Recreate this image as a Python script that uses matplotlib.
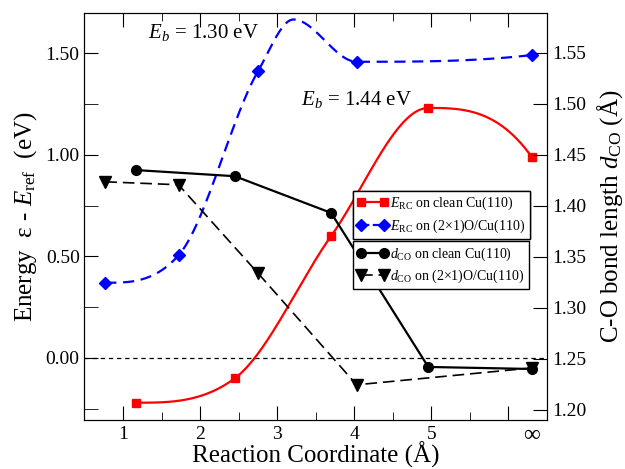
import numpy as np
import matplotlib
matplotlib.use("Agg")
import matplotlib.pyplot as plt

plt.rcParams['font.family'] = ['Liberation Serif', 'DejaVu Serif']
plt.rcParams['mathtext.fontset'] = 'custom'
plt.rcParams['mathtext.rm'] = 'Liberation Serif'
plt.rcParams['mathtext.it'] = 'Liberation Serif:italic'

INF = 6.3  # position used for the "infinity" column

# clean Cu(110)
x_clean = [1.17, 2.45, 3.70, 4.96, INF]
e_clean = [-0.22, -0.10, 0.60, 1.23, 0.99]
d_clean = [1.435, 1.429, 1.393, 1.242, 1.240]

# (2x1)O/Cu(110)
x_ox = [0.77, 1.72, 2.75, 4.03, INF]
e_ox = [0.37, 0.505, 1.41, 1.457, 1.49]
d_ox = [1.4235, 1.4206, 1.334, 1.2245, 1.241]

# transition state on (2x1)O/Cu(110), no marker in the figure
x_ts_ox = 3.21
e_ts_ox = 1.665

xticks = [1, 2, 3, 4, 5, 6]
xticklabels = ['1', '2', '3', '4', '5', '']


def smooth(x, y, n=300):
    # cubic hermite curve through the points, flat at extrema, only for drawing
    x = np.asarray(x, float)
    y = np.asarray(y, float)
    h = np.diff(x)
    dl = np.diff(y) / h
    m = np.zeros(len(x))
    for k in range(1, len(x) - 1):
        if dl[k - 1] * dl[k] > 0:
            avg = (h[k] * dl[k - 1] + h[k - 1] * dl[k]) / (h[k - 1] + h[k])
            lim = 3 * min(abs(dl[k - 1]), abs(dl[k]))
            m[k] = np.sign(avg) * min(abs(avg), lim)

    def edge(h0, h1, d0, d1):
        d = ((2 * h0 + h1) * d0 - h0 * d1) / (h0 + h1)
        if np.sign(d) != np.sign(d0):
            d = 0.0
        elif np.sign(d0) != np.sign(d1) and abs(d) > abs(3 * d0):
            d = 3 * d0
        return d

    m[0] = edge(h[0], h[1], dl[0], dl[1])
    m[-1] = edge(h[-1], h[-2], dl[-1], dl[-2])
    xs = np.linspace(x[0], x[-1], n)
    i = np.clip(np.searchsorted(x, xs) - 1, 0, len(x) - 2)
    t = (xs - x[i]) / h[i]
    h00 = 2 * t ** 3 - 3 * t ** 2 + 1
    h10 = t ** 3 - 2 * t ** 2 + t
    h01 = -2 * t ** 3 + 3 * t ** 2
    h11 = t ** 3 - t ** 2
    ys = h00 * y[i] + h10 * h[i] * m[i] + h01 * y[i + 1] + h11 * h[i] * m[i + 1]
    return xs, ys


fig = plt.figure(figsize=(6.25, 4.69), dpi=100)
ax = fig.add_axes([0.1352, 0.1045, 0.740, 0.8678])
ax2 = ax.twinx()

ax.axhline(0, color='black', lw=0.9, ls=(0, (3.5, 3)))

xs, ys = smooth(x_clean, e_clean)
ax.plot(xs, ys, color='red', lw=1.6)
ax.plot(x_clean, e_clean, 's', color='red', ms=6)
xc = sorted(x_ox + [x_ts_ox])
yc = [dict(zip(x_ox + [x_ts_ox], e_ox + [e_ts_ox]))[v] for v in xc]
xs, ys = smooth(xc, yc)
ax.plot(xs, ys, color='blue', lw=1.6, ls=(0, (5, 3)))
ax.plot(x_ox, e_ox, 'D', color='blue', ms=6)

h1, = ax.plot([], [], 's-', color='red', lw=1.6, ms=6)
h2, = ax.plot([], [], 'D--', color='blue', lw=1.6, ms=6)

h3, = ax2.plot(x_clean, d_clean, 'o-', color='black', lw=1.6, ms=7)
h4, = ax2.plot(x_ox, d_ox, 'v--', color='black', lw=1.2, ms=8, dashes=(7, 3.5))

ax.set_xlim(0.5, 6.5)
ax.set_ylim(-0.305, 1.697)
ax2.set_ylim(1.19, 1.589)

ax.set_xticks(xticks)
ax.set_xticklabels(xticklabels)
ax.set_xticks(np.arange(1.5, 6.5, 1.0), minor=True)
ax.text(INF, -0.012, '∞', transform=ax.get_xaxis_transform(),
        ha='center', va='top', fontsize=17)
ax.set_yticks([0, 0.5, 1.0, 1.5])
ax.set_yticklabels(['0.00', '0.50', '1.00', '1.50'])
ax.set_yticks([-0.25, 0.25, 0.75, 1.25], minor=True)
ax2.set_yticks(np.arange(1.20, 1.56, 0.05))
ax2.set_yticklabels(['%.2f' % v for v in np.arange(1.20, 1.56, 0.05)])

ax.tick_params(axis='both', which='both', direction='in', labelsize=14)
ax.tick_params(axis='x', which='major', length=10, top=True, pad=4)
ax.tick_params(axis='x', which='minor', length=6, top=True)
ax.tick_params(axis='y', which='both', length=10, right=False)
ax2.tick_params(axis='y', direction='in', length=10, labelsize=14, pad=4)

ax.set_xlabel('Reaction Coordinate (Å)', fontsize=18, labelpad=-1)
ax.set_ylabel(r'Energy  ε - $E_{\rm ref}$  (eV)', fontsize=18, labelpad=5)
ax2.set_ylabel(r'C-O bond length $d_{\rm CO}$ (Å)', fontsize=18, labelpad=6)

ax.text(1.32, 1.60, r'$E_b$ = 1.30 eV', fontsize=15, va='center')
ax.text(3.31, 1.27, r'$E_b$ = 1.44 eV', fontsize=15, va='center')

leg_kw = dict(loc='upper left', borderaxespad=0, numpoints=2, fontsize=10,
              fancybox=False, edgecolor='black', framealpha=1,
              handlelength=2.2, handletextpad=0.2, labelspacing=0.35,
              borderpad=0.3)
leg1 = ax.legend([h1, h2], [r'$E_{\rm RC}$ on clean Cu(110)',
                            r'$E_{\rm RC}$ on (2×1)O/Cu(110)'],
                 bbox_to_anchor=(0.5805, 0.5627), **leg_kw)
leg1.get_frame().set_linewidth(1.0)
leg2 = ax2.legend([h3, h4], [r'$d_{\rm CO}$ on clean Cu(110)',
                             r'$d_{\rm CO}$ on (2×1)O/Cu(110)'],
                  bbox_to_anchor=(0.5805, 0.4386), **leg_kw)
leg2.get_frame().set_linewidth(1.0)
ax.add_artist(leg1)

fig.savefig('out.png', dpi=100)
